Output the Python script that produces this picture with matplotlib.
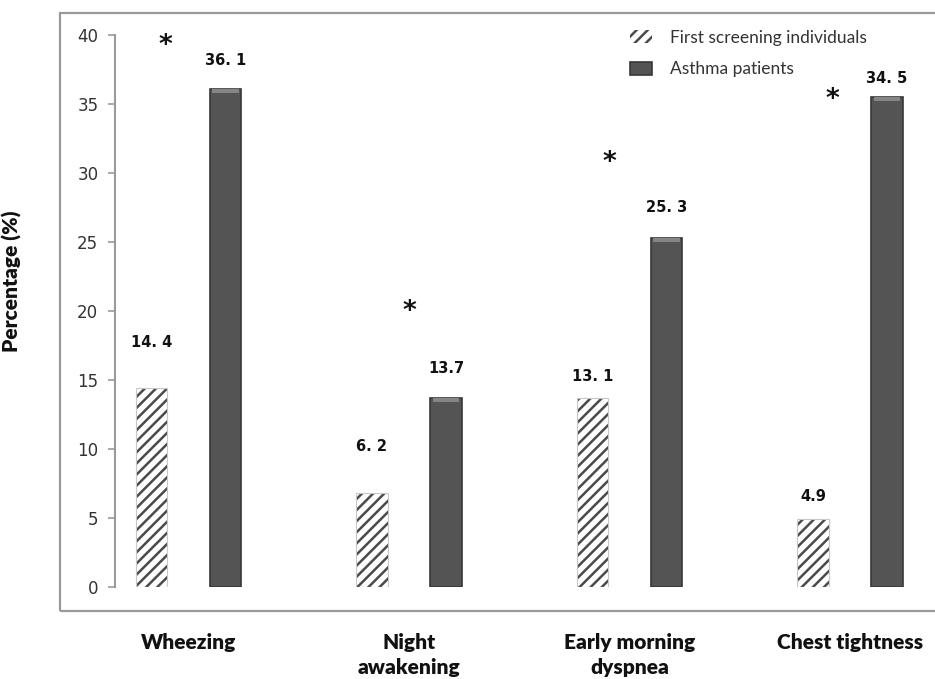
import matplotlib
matplotlib.use("Agg")
import matplotlib.pyplot as plt
import matplotlib.patches as mpatches
import numpy as np

categories = ["Wheezing", "Night\nawakening", "Early morning\ndyspnea", "Chest tightness"]
first_screening = [14.4, 6.8, 13.7, 4.9]
asthma_patients = [36.1, 13.7, 25.3, 35.5]
first_labels = ["14. 4", "6. 2", "13. 1", "4.9"]
asthma_labels = ["36. 1", "13.7", "25. 3", "34. 5"]
star_y = [39.7, 20.4, 31.2, 35.8]
yticks = [0, 5, 10, 15, 20, 25, 30, 35, 40]

# style / layout
first_pad_px = [46, 46, 21, 23]
asthma_pad_px = [28, 29, 30, 19]
star_dx = [-0.105, 0.0, -0.09, -0.08]

plt.rcParams['hatch.linewidth'] = 1.8

W, H = 935, 679
fig = plt.figure(figsize=(W / 100, H / 100), dpi=100)
ax = fig.add_axes([115 / W, (H - 586.7) / H, (W - 115) / W, (586.7 - 35) / H])

# outer frame
frame = mpatches.Rectangle((60 / W, (H - 611) / H), 1.2, (611 - 13) / H,
                           transform=fig.transFigure, fill=False,
                           edgecolor='#9a9a9a', linewidth=1.6, zorder=0)
fig.patches.append(frame)

x = np.arange(len(categories))
off = 0.168
bw = 0.142

b1 = ax.bar(x - off, first_screening, bw, color='white', edgecolor='#4a4a4a',
            hatch='///', linewidth=0, label='First screening individuals')
ax.bar(x - off, first_screening, bw, color='none', edgecolor='#c8c8c8', linewidth=0.8)
b2 = ax.bar(x + off, asthma_patients, bw, color='#545454', edgecolor='#383838',
            linewidth=1.2, label='Asthma patients')
# subtle highlight cap on dark bars
cap = 0.3
ax.bar(x + off, [cap] * len(x), bw * 0.85, bottom=[v - cap for v in asthma_patients],
       color='#858585', linewidth=0)

for xi, v, lab, p in zip(x - off, first_screening, first_labels, first_pad_px):
    ax.annotate(lab, (xi, v), xytext=(0, p * 0.72), textcoords='offset points',
                ha='center', va='center', fontsize=10.5, fontweight='bold',
                color='#111111', family='DejaVu Sans')
for xi, v, lab, p in zip(x + off, asthma_patients, asthma_labels, asthma_pad_px):
    ax.annotate(lab, (xi, v), xytext=(0, p * 0.72), textcoords='offset points',
                ha='center', va='center', fontsize=10.5, fontweight='bold',
                color='#111111', family='DejaVu Sans')

for xi, dx, sy in zip(x, star_dx, star_y):
    ax.annotate('*', (xi + dx, sy), xytext=(0, -5), textcoords='offset points',
                ha='center', va='center', fontsize=19, fontweight='bold',
                color='#111111', family='DejaVu Sans')

ax.set_xlim(-0.333, -0.333 + (W - 115) / 220.5)
ax.set_ylim(0, 40)
ax.set_yticks(yticks)
ax.tick_params(axis='y', direction='out', length=5, width=1.2, color='#9a9a9a',
               pad=7, labelsize=12, labelcolor='#333333')
ax.set_xticks(x)
ax.set_xticklabels(categories, fontsize=15, fontweight='heavy', family='Lato',
                   color='#111111', linespacing=1.4, va='top')
ax.tick_params(axis='x', length=0, pad=33)

for s in ['top', 'right', 'bottom']:
    ax.spines[s].set_visible(False)
ax.spines['left'].set_color('#9a9a9a')
ax.spines['left'].set_linewidth(1.5)

ax.set_ylabel('Percentage (%)', fontsize=15, fontweight='heavy', family='Lato',
              color='#111111')
ax.yaxis.set_label_coords(-(115 - 22) / (W - 115), (586.7 - 281) / (586.7 - 35))

ax.legend(handles=[b1, b2], loc='upper left', bbox_to_anchor=((614 - 115) / (W - 115), 1.038),
          frameon=False, prop={'family': 'Lato', 'size': 12.5}, handlelength=1.3,
          handleheight=0.8, handletextpad=1.0, labelspacing=0.9, labelcolor='#333333')

fig.savefig('out.png', dpi=100)
